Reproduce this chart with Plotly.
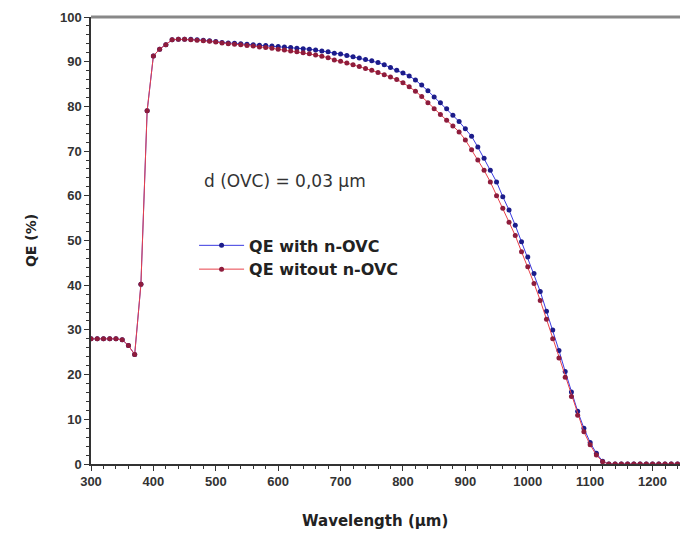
import plotly.graph_objects as go

wavelength = list(range(300, 1250, 10))

qe_with = [
    28.0, 28.0, 28.0, 28.0, 28.0, 27.8, 26.5, 24.5, 40.2, 79.0,   # 300-390
    91.3, 92.8, 93.8, 94.9, 95.0, 95.0, 95.0, 94.9, 94.8, 94.7,   # 400-490
    94.5, 94.3, 94.2, 94.1, 94.0, 93.9, 93.8, 93.7, 93.6, 93.5,   # 500-590
    93.4, 93.3, 93.2, 93.0, 92.9, 92.8, 92.6, 92.4, 92.2, 91.9,   # 600-690
    91.7, 91.4, 91.1, 90.8, 90.5, 90.2, 89.8, 89.3, 88.7, 88.1,   # 700-790
    87.5, 86.8, 85.9, 84.8, 83.5, 82.1, 80.8, 79.5, 78.0, 76.6,   # 800-890
    75.0, 73.3, 70.9, 68.4, 65.7, 63.1, 59.8, 56.8, 53.4, 49.7,   # 900-990
    46.3, 42.6, 38.6, 34.2, 30.0, 25.4, 20.7, 16.1, 11.8, 8.0,    # 1000-1090
    4.8, 2.4, 0.6, 0.0, 0.0, 0.0, 0.0, 0.0, 0.0, 0.0,             # 1100-1190
    0.0, 0.0, 0.0, 0.0, 0.0,                                      # 1200-1240
]

qe_without = [
    28.0, 28.0, 28.0, 28.0, 28.0, 27.8, 26.5, 24.5, 40.2, 79.0,   # 300-390
    91.3, 92.8, 93.8, 94.9, 95.0, 95.0, 94.9, 94.8, 94.7, 94.6,   # 400-490
    94.4, 94.2, 94.0, 93.9, 93.8, 93.6, 93.5, 93.3, 93.2, 93.0,   # 500-590
    92.8, 92.6, 92.4, 92.2, 92.0, 91.8, 91.5, 91.2, 90.9, 90.4,   # 600-690
    90.1, 89.7, 89.3, 88.9, 88.5, 88.1, 87.6, 87.1, 86.6, 86.0,   # 700-790
    85.3, 84.4, 83.4, 82.2, 80.8, 79.5, 78.2, 76.9, 75.6, 74.3,   # 800-890
    72.5, 70.3, 68.0, 65.7, 63.1, 60.0, 57.2, 54.1, 51.1, 47.5,   # 900-990
    44.1, 40.4, 36.6, 32.4, 28.0, 23.7, 19.4, 15.1, 10.9, 7.2,    # 1000-1090
    4.3, 2.0, 0.5, 0.0, 0.0, 0.0, 0.0, 0.0, 0.0, 0.0,             # 1100-1190
    0.0, 0.0, 0.0, 0.0, 0.0,                                      # 1200-1240
]

x_ticks = [300, 400, 500, 600, 700, 800, 900, 1000, 1100, 1200]
y_ticks = [0, 10, 20, 30, 40, 50, 60, 70, 80, 90, 100]

fig = go.Figure()
fig.add_trace(go.Scatter(
    x=wavelength, y=qe_with, mode="lines+markers", name="QE with n-OVC",
    line=dict(color="#3a3ae0", width=1),
    marker=dict(color="#1c1c8a", size=5, line=dict(width=0)),
))
fig.add_trace(go.Scatter(
    x=wavelength, y=qe_without, mode="lines+markers", name="QE witout n-OVC",
    line=dict(color="#e8404a", width=1),
    marker=dict(color="#8e1c3c", size=5, line=dict(width=0)),
))

axis_font = dict(family="Arial, Liberation Sans, sans-serif", size=13, color="#333333")
wide_font = "DejaVu Sans, Verdana, sans-serif"

fig.update_layout(
    width=680, height=533,
    margin=dict(l=91, r=0, t=17, b=69),
    paper_bgcolor="white", plot_bgcolor="white",
    showlegend=True,
    legend=dict(
        x=0.175, y=0.527, xanchor="left", yanchor="top",
        bgcolor="rgba(0,0,0,0)",
        font=dict(family=wide_font, size=16, color="#222222", weight="bold"),
        itemwidth=45, tracegroupgap=0,
    ),
    xaxis=dict(
        range=[300, 1244], tickvals=x_ticks, showgrid=False, zeroline=False,
        showline=True, linecolor="#333333", linewidth=1.5,
        ticks="outside", ticklen=5, tickcolor="#333333", tickwidth=1.2,
        minor=dict(dtick=20, ticks="outside", ticklen=3, tickcolor="#333333"),
        tickfont=dict(**axis_font, weight="bold"),
    ),
    yaxis=dict(
        range=[0, 100], tickvals=y_ticks, showgrid=False, zeroline=False,
        showline=True, linecolor="#333333", linewidth=1.5,
        ticks="outside", ticklen=5, tickcolor="#333333", tickwidth=1.2,
        minor=dict(dtick=2, ticks="outside", ticklen=3, tickcolor="#333333"),
        tickfont=dict(**axis_font, weight="bold"),
        title=dict(text="QE (%)", standoff=20,
                   font=dict(family=wide_font, size=14, color="#222222", weight="bold")),
    ),
    shapes=[dict(type="line", xref="paper", yref="paper", x0=0, x1=1, y0=1, y1=1,
                 line=dict(color="#888888", width=3))],
    annotations=[
        dict(x=611, y=63.3, xref="x", yref="y", text="d (OVC) = 0,03 µm", showarrow=False,
             font=dict(family=wide_font, size=17, color="#333333")),
        dict(x=0.482, y=-0.1275, xref="paper", yref="paper", text="Wavelength (µm)",
             showarrow=False, xanchor="center", yanchor="middle",
             font=dict(family=wide_font, size=15, color="#222222", weight="bold")),
    ],
)

fig.write_html("out.html")
